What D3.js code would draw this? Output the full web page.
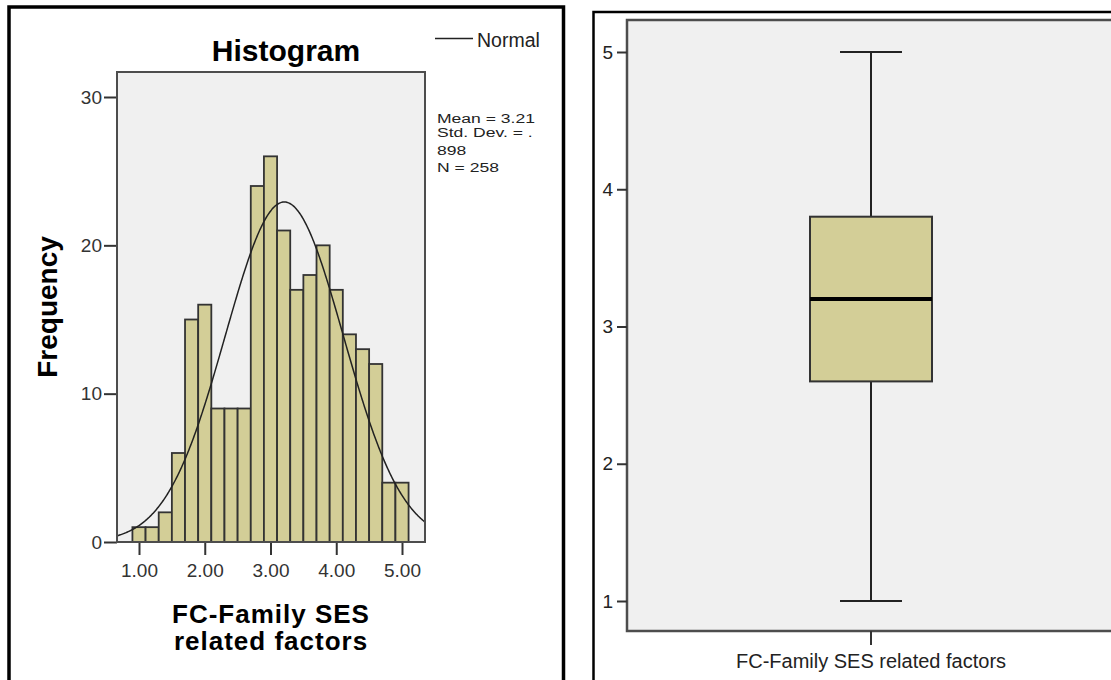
<!DOCTYPE html>
<html><head><meta charset="utf-8">
<script src="https://cdn.jsdelivr.net/npm/d3@7"></script>
<style>
body{margin:0;background:#fff;}
svg{display:block;font-family:"Liberation Sans",Arial,sans-serif;}
</style>
</head><body>
<svg id="c" width="1111" height="680"></svg>
<script>
// ---------- data ----------
const binCenters = [1.0,1.2,1.4,1.6,1.8,2.0,2.2,2.4,2.6,2.8,3.0,3.2,3.4,3.6,3.8,4.0,4.2,4.4,4.6,4.8,5.0];
const frequencies = [1,1,2,6,15,16,9,9,9,24,26,21,17,18,20,17,14,13,12,4,4];
const binWidth = 0.2;
const histXTicks = [1,2,3,4,5];
const histYTicks = [0,10,20,30];
const sampleMean = 3.21;
const sampleSD = 0.898;
const sampleN = 258;
const statsLines = ["Mean = 3.21","Std. Dev. = .","898","N = 258"];
const legendLabel = "Normal";
const boxCategories = ["FC-Family SES related factors"];
const boxMin = [1], boxQ1 = [2.6], boxMedian = [3.2], boxQ3 = [3.8], boxMax = [5];
const boxYTicks = [1,2,3,4,5];

// ---------- styles ----------
const FILL = "#d3ce97", EDGE = "#333", PLOTBG = "#f0f0f0", FRAME = "#4d4d4d";
const svg = d3.select("#c");

// panel borders
svg.append("rect").attr("x",9).attr("y",7).attr("width",554.5).attr("height",720)
  .attr("fill","none").attr("stroke","#000").attr("stroke-width",3.5);
svg.append("rect").attr("x",593.5).attr("y",12).attr("width",640).attr("height",720)
  .attr("fill","none").attr("stroke","#000").attr("stroke-width",2.5);

// ================= HISTOGRAM =================
const hx = d3.scaleLinear().domain([1,5]).range([139,402]);
const hy = d3.scaleLinear().domain([0,30]).range([542,97]);
const hL = 117, hR = 425, hT = 72, hB = 542;

const hg = svg.append("g");
hg.append("rect").attr("x",hL).attr("y",hT).attr("width",hR-hL).attr("height",hB-hT)
  .attr("fill",PLOTBG).attr("stroke",FRAME).attr("stroke-width",2);

hg.selectAll("rect.bar").data(binCenters).join("rect").attr("class","bar")
  .attr("x",(c)=>hx(c-binWidth/2))
  .attr("width",(c)=>hx(c+binWidth/2)-hx(c-binWidth/2))
  .attr("y",(c,i)=>hy(frequencies[i]))
  .attr("height",(c,i)=>hy(0)-hy(frequencies[i]))
  .attr("fill",FILL).attr("stroke",EDGE).attr("stroke-width",1.8);

// normal curve
svg.append("clipPath").attr("id","hclip").append("rect")
  .attr("x",hL).attr("y",hT).attr("width",hR-hL).attr("height",hB-hT);
const x0 = hx.invert(hL), x1 = hx.invert(hR);
const scaleK = sampleN*binWidth/(sampleSD*Math.sqrt(2*Math.PI));
const pts = d3.range(x0, x1+0.01, 0.01).map(v=>[v, scaleK*Math.exp(-0.5*Math.pow((v-sampleMean)/sampleSD,2))]);
hg.append("path").datum(pts).attr("clip-path","url(#hclip)")
  .attr("d", d3.line().x(d=>hx(d[0])).y(d=>hy(d[1])).curve(d3.curveBasis))
  .attr("fill","none").attr("stroke","#222").attr("stroke-width",1.5);

// axes
const hyAxis = hg.append("g").attr("transform",`translate(${hL},0)`)
  .call(d3.axisLeft(hy).tickValues(histYTicks).tickSize(13).tickPadding(2).tickFormat(d3.format("d")));
const hxAxis = hg.append("g").attr("transform",`translate(0,${hB})`)
  .call(d3.axisBottom(hx).tickValues(histXTicks).tickSize(13).tickPadding(9).tickFormat(d3.format(".2f")));
[hyAxis,hxAxis].forEach(a=>{
  a.select(".domain").remove();
  a.selectAll(".tick line").attr("stroke","#333").attr("stroke-width",2);
  a.selectAll(".tick text").attr("fill","#333").style("font-size","19px").style("font-family","Liberation Sans, Arial, sans-serif");
});
// redraw frame edges on top
hg.append("rect").attr("x",hL).attr("y",hT).attr("width",hR-hL).attr("height",hB-hT)
  .attr("fill","none").attr("stroke",FRAME).attr("stroke-width",2);

// titles
hg.append("text").attr("x",286).attr("y",61).attr("text-anchor","middle")
  .style("font-size","30px").style("font-weight","bold").text("Histogram");
const xt = hg.append("text").attr("text-anchor","middle").style("font-size","26px")
  .style("font-weight","bold").style("letter-spacing","1px");
xt.append("tspan").attr("x",271).attr("y",623).text("FC-Family SES");
xt.append("tspan").attr("x",271).attr("y",650).text("related factors");
hg.append("text").attr("transform","translate(57,307) rotate(-90)").attr("text-anchor","middle")
  .style("font-size","28px").style("font-weight","bold").text("Frequency");

// legend
hg.append("line").attr("x1",435).attr("x2",473).attr("y1",38.5).attr("y2",38.5)
  .attr("stroke","#222").attr("stroke-width",1.5);
hg.append("text").attr("x",477).attr("y",47).style("font-size","19.5px").attr("fill","#222").text(legendLabel);

// stats
const statBase = [123,137,155,172];
hg.selectAll("text.stat").data(statsLines).join("text").attr("class","stat")
  .attr("transform",(d,i)=>`translate(437,${statBase[i]}) scale(1.3,1)`)
  .style("font-size","13.5px").attr("fill","#222").text(d=>d);

// ================= BOXPLOT =================
const bL = 627, bR = 1115, bT = 20, bB = 631;
const bx = d3.scaleBand().domain(boxCategories).range([bL,bR]);
const by = d3.scaleLinear().domain([1,5]).range([601,52]);
const bg = svg.append("g");
bg.append("rect").attr("x",bL).attr("y",bT).attr("width",bR-bL).attr("height",bB-bT)
  .attr("fill",PLOTBG).attr("stroke",FRAME).attr("stroke-width",2.5);

const boxW = bx.bandwidth()*0.25, capW = bx.bandwidth()*0.127;
const bs = bg.selectAll("g.box").data(boxCategories).join("g").attr("class","box");
bs.each(function(cat,i){
  const g = d3.select(this);
  const cx = bx(cat)+bx.bandwidth()/2;
  g.append("line").attr("x1",cx).attr("x2",cx).attr("y1",by(boxMax[i])).attr("y2",by(boxQ3[i])).attr("stroke","#222").attr("stroke-width",2);
  g.append("line").attr("x1",cx).attr("x2",cx).attr("y1",by(boxQ1[i])).attr("y2",by(boxMin[i])).attr("stroke","#222").attr("stroke-width",2);
  g.append("line").attr("x1",cx-capW/2).attr("x2",cx+capW/2).attr("y1",by(boxMax[i])).attr("y2",by(boxMax[i])).attr("stroke","#222").attr("stroke-width",2);
  g.append("line").attr("x1",cx-capW/2).attr("x2",cx+capW/2).attr("y1",by(boxMin[i])).attr("y2",by(boxMin[i])).attr("stroke","#222").attr("stroke-width",2);
  g.append("rect").attr("x",cx-boxW/2).attr("width",boxW).attr("y",by(boxQ3[i])).attr("height",by(boxQ1[i])-by(boxQ3[i]))
    .attr("fill",FILL).attr("stroke","#333").attr("stroke-width",2);
  g.append("line").attr("x1",cx-boxW/2).attr("x2",cx+boxW/2).attr("y1",by(boxMedian[i])).attr("y2",by(boxMedian[i])).attr("stroke","#000").attr("stroke-width",4);
});

const byAxis = bg.append("g").attr("transform",`translate(${bL},0)`)
  .call(d3.axisLeft(by).tickValues(boxYTicks).tickSize(10).tickPadding(4).tickFormat(d3.format("d")));
const bxAxis = bg.append("g").attr("transform",`translate(0,${bB})`)
  .call(d3.axisBottom(bx).tickSize(14).tickPadding(9));
[byAxis,bxAxis].forEach(a=>{
  a.select(".domain").remove();
  a.selectAll(".tick line").attr("stroke","#333").attr("stroke-width",2);
  a.selectAll(".tick text").attr("fill","#222").style("font-size","19px").style("font-family","Liberation Sans, Arial, sans-serif");
});
bxAxis.selectAll(".tick text").style("font-size","20px");
</script>
</body></html>
